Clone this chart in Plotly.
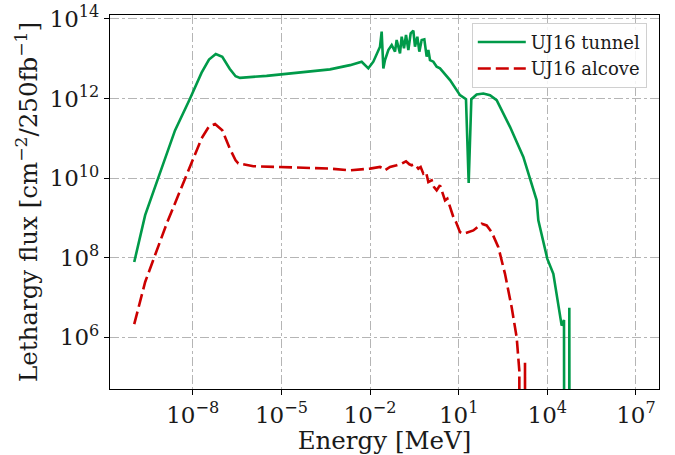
import plotly.graph_objects as go

# log10(Energy [MeV]) and log10(lethargy flux)
tunnel_log_e = [-9.98, -9.8, -9.61, -9.17, -8.6, -8.09, -7.7, -7.45, -7.22, -7.0, -6.75, -6.55, -6.4,
                -5.5, -4.5, -3.354, -2.677, -2.283, -2.057, -1.888, -1.662, -1.606, -1.549, -1.493,
                -1.380, -1.267, -1.154, -1.098, -0.985, -0.929, -0.850, -0.782, -0.703, -0.624, -0.534,
                -0.478, -0.399, -0.331, -0.252, -0.162, -0.083, -0.026, 0.030, 0.143, 0.256, 0.368,
                0.707, 1.045, 1.248, 1.339, 1.429, 1.609, 1.835, 2.06, 2.286, 2.737, 3.188, 3.640,
                3.696, 4.001, 4.204, 4.486, 4.565, 4.575, 4.74, 4.745, 4.755]
tunnel_log_flux = [7.89, 8.5, 9.07, 10.0, 11.2, 12.0, 12.65, 12.98, 13.12, 13.05, 12.75, 12.56, 12.52,
                   12.57, 12.65, 12.733, 12.84, 12.926, 12.758, 12.926, 13.304, 13.681, 12.758, 12.968,
                   13.220, 13.346, 13.178, 13.472, 13.136, 13.555, 13.262, 13.597, 13.220, 13.639, 13.707,
                   13.304, 13.555, 13.178, 13.472, 13.488, 13.052, 13.220, 12.968, 12.926, 12.800, 12.758,
                   12.464, 12.086, 11.985, 9.878, 11.985, 12.103, 12.128, 12.086, 11.96, 11.289, 10.533, 9.441,
                   8.937, 7.971, 7.594, 6.292, 6.435, 0.0, 0.0, 6.74, 0.0]

alcove_log_e = [-9.98, -9.61, -8.88, -8.26, -7.7, -7.45, -7.245, -7.0, -6.75, -6.55, -6.46, -5.95,
                -3.354, -2.677, -2.0, -1.662, -1.549, -1.493, -1.324, -1.098, -0.929, -0.782, -0.669,
                -0.590, -0.478, -0.365, -0.286, -0.196, -0.105, -0.026, 0.087, 0.166, 0.256, 0.368,
                0.459, 0.538, 0.617, 0.707, 0.763, 0.820, 0.910, 0.989, 1.045, 1.158, 1.327, 1.497,
                1.779, 1.948, 2.117, 2.343, 2.568, 2.794, 2.963, 3.053, 3.06, 3.24, 3.245, 3.25]
alcove_log_flux = [6.33, 7.39, 8.86, 10.0, 11.0, 11.3, 11.36, 11.2, 10.75, 10.45, 10.37, 10.30,
                   10.239, 10.197, 10.239, 10.281, 10.239, 10.197, 10.281, 10.323, 10.365, 10.424, 10.348,
                   10.323, 10.348, 10.239, 10.281, 10.113, 10.155, 9.903, 9.945, 9.777, 9.693, 9.819,
                   9.609, 9.441, 9.483, 9.273, 9.106, 9.022, 8.896, 8.770, 8.643, 8.601, 8.643, 8.685,
                   8.853, 8.811, 8.643, 8.265, 7.594, 6.754, 6.0, 5.159, 0.0, 0.0, 5.36, 0.0]

x_tick_exp = [-8, -5, -2, 1, 4, 7]
y_tick_exp = [6, 8, 10, 12, 14]


def sup(e):
    s = str(e).replace("-", "\u2212")
    return "10<sup>" + s + "</sup>"


fig = go.Figure()
fig.add_trace(go.Scatter(
    x=[10 ** v for v in tunnel_log_e], y=[10 ** v for v in tunnel_log_flux],
    mode="lines", name="UJ16 tunnel",
    line=dict(color="#009a49", width=2.6)))
fig.add_trace(go.Scatter(
    x=[10 ** v for v in alcove_log_e], y=[10 ** v for v in alcove_log_flux],
    mode="lines", name="UJ16 alcove",
    line=dict(color="#cc0000", width=2.6, dash="13px,5px")))

font_family = "DejaVu Serif"
axis_common = dict(
    type="log", showline=True, linecolor="black", linewidth=1.2, mirror=True,
    ticks="outside", ticklen=5, tickcolor="black", tickwidth=1.2,
    showgrid=True, gridcolor="#b5b5b5", gridwidth=1, griddash="dashdot",
    zeroline=False, automargin=False, ticklabeloverflow="allow",
    tickfont=dict(family=font_family, size=23, color="#1a1a1a"),
)

fig.update_layout(
    width=675, height=455,
    margin=dict(l=110, r=16, t=15, b=66),
    paper_bgcolor="white", plot_bgcolor="white",
    font=dict(family=font_family, color="#1a1a1a"),
    showlegend=True,
    legend=dict(x=0.659, y=0.979, xanchor="left", yanchor="top", itemwidth=48,
                bgcolor="rgba(255,255,255,0.85)", bordercolor="#d0d0d0", borderwidth=1,
                font=dict(family=font_family, size=18, color="#1a1a1a")),
    xaxis=dict(axis_common, range=[-10.8, 7.78],
               tickvals=[10 ** e for e in x_tick_exp], ticktext=[sup(e) for e in x_tick_exp],
               title=dict(text="Energy [MeV]", font=dict(family=font_family, size=24.5), standoff=0)),
    yaxis=dict(axis_common, range=[4.70, 14.1],
               tickvals=[10 ** e for e in y_tick_exp], ticktext=[sup(e) for e in y_tick_exp],
               title=dict(text="Lethargy flux [cm<sup>\u22122</sup>/250fb<sup>\u22121</sup>]",
                          font=dict(family=font_family, size=24.5), standoff=4)),
)

# remove the browser's default 8px page margin so the figure fills the window
fig.write_html("out.html", config={"displayModeBar": False},
               post_script="document.body.style.margin='0';")
